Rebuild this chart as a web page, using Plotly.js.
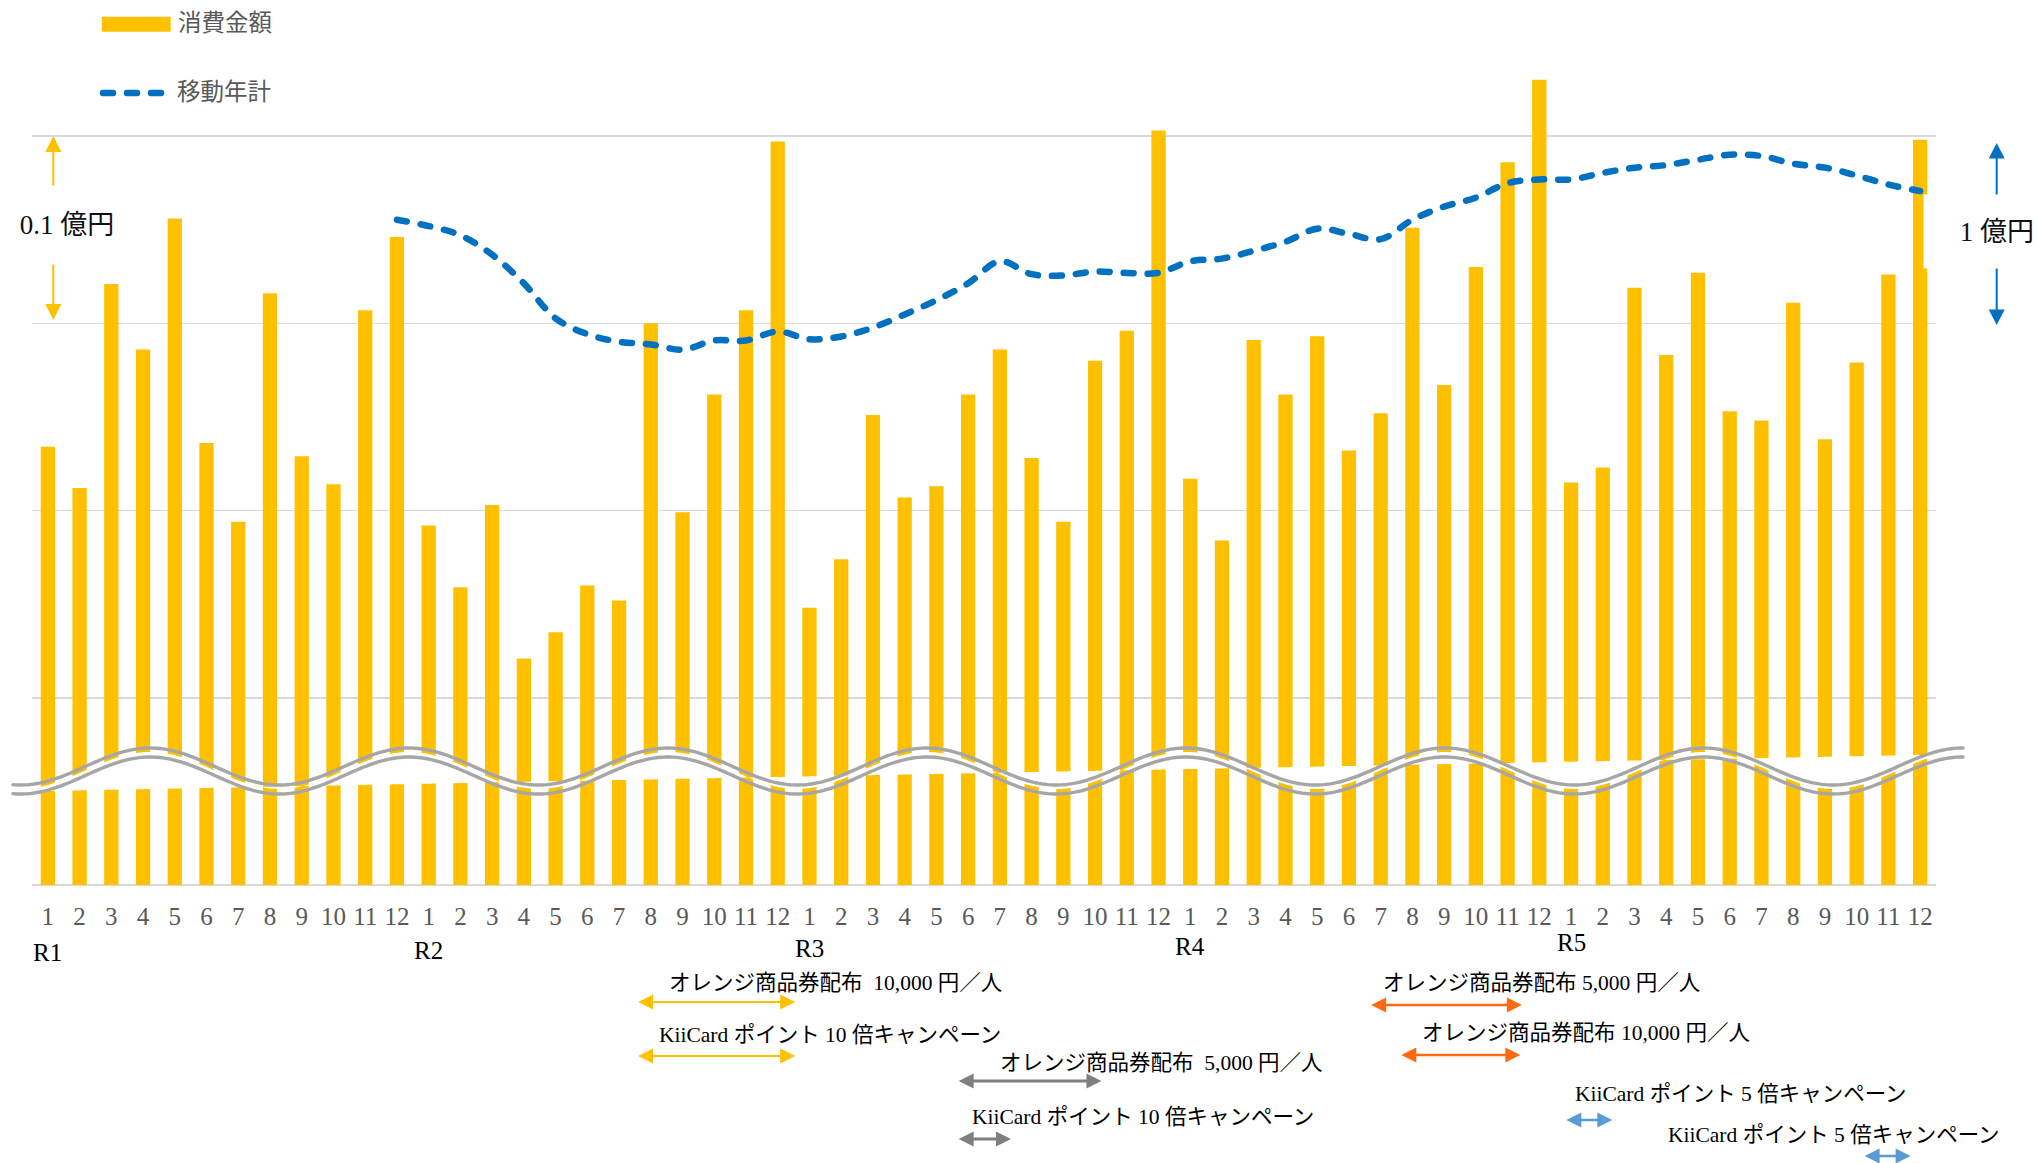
<!DOCTYPE html>
<html>
<head>
<meta charset="utf-8">
<script src="https://cdn.plot.ly/plotly-3.0.1.min.js"></script>
<style>
html,body{margin:0;padding:0;background:#ffffff;}
#chart{width:2038px;height:1163px;}
.js-line, .shapelayer path { stroke-linecap: round; }
</style>
</head>
<body>
<div id="chart"></div>
<script>
// ---------------- data ----------------
const years  = ['R1', 'R2', 'R3', 'R4', 'R5'];
const months = [1, 2, 3, 4, 5, 6, 7, 8, 9, 10, 11, 12];

// 消費金額 (chart scale: one grid step = 0.1 億円, broken axis)
const spendR1 = [0.234, 0.212, 0.321, 0.286, 0.356, 0.236, 0.194, 0.316, 0.229, 0.214, 0.307, 0.346];
const spendR2 = [0.192, 0.159, 0.203, 0.121, 0.135, 0.160, 0.152, 0.300, 0.199, 0.262, 0.307, 0.397];
const spendR3 = [0.148, 0.174, 0.251, 0.207, 0.213, 0.262, 0.286, 0.228, 0.194, 0.280, 0.296, 0.403];
const spendR4 = [0.217, 0.184, 0.291, 0.262, 0.293, 0.232, 0.252, 0.351, 0.267, 0.330, 0.386, 0.430];
const spendR5 = [0.215, 0.223, 0.319, 0.283, 0.327, 0.253, 0.248, 0.311, 0.238, 0.279, 0.326, 0.398];

// 移動年計 (one grid step = 1 億円), from R1-12 to R5-12
const movingTotal = [
  3.553,
  3.519, 3.470, 3.366, 3.213, 3.026, 2.942, 2.901, 2.887, 2.859, 2.908, 2.908, 2.956,
  2.915, 2.929, 2.977, 3.047, 3.123, 3.213, 3.331, 3.262, 3.255, 3.276, 3.269, 3.269,
  3.331, 3.345, 3.387, 3.435, 3.505, 3.477, 3.449, 3.553, 3.623, 3.671, 3.748, 3.768,
  3.768, 3.803, 3.831, 3.845, 3.873, 3.900, 3.893, 3.852, 3.831, 3.789, 3.741, 3.706
];
const movingStart = 11; // first month index of the moving total (R1-12)

// campaigns (periods in month-index units along the x axis)
const campaignLabels = [
  'オレンジ商品券配布\u00a0 10,000 円／人',
  'KiiCard ポイント 10 倍キャンペーン',
  'オレンジ商品券配布\u00a0 5,000 円／人',
  'KiiCard ポイント 10 倍キャンペーン',
  'オレンジ商品券配布 5,000 円／人',
  'オレンジ商品券配布 10,000 円／人',
  'KiiCard ポイント 5 倍キャンペーン',
  'KiiCard ポイント 5 倍キャンペーン'
];
const campaignStart = [18.6, 18.6, 28.7, 28.7, 41.7, 42.65, 47.85, 57.25];
const campaignEnd   = [23.55, 23.55, 33.2, 30.35, 46.45, 46.4, 49.3, 58.7];

const legendNames = ['消費金額', '移動年計'];
const unitLeft  = '0.1 億円';
const unitRight = '1 億円';

// ---------------- presentation ----------------
const W = 2038, H = 1163;
const ML = 32, MR = 102, MT = 0, MB = 278;
const PW = W - ML - MR, PH = H - MT - MB;       // 1904 x 885
const GRID_PX = 187.25;                          // px per grid step
const px = x => (x - ML) / PW;                   // pixel x -> paper
const py = y => (PH + MT - y) / PH;              // pixel y -> paper
const SLOT = PW / 60;
const idxOfPx = x => (x - ML) / SLOT - 0.5;

const YELLOW = '#FFC000', BLUE = '#0070C0', GRAY_WAVE = '#A6A6A6';
const SERIF = 'Liberation Serif, "Noto Sans CJK JP", serif';

const campaignColor = [YELLOW, YELLOW, '#7F7F7F', '#7F7F7F', '#FF6A10', '#FF6A10', '#5B9BD5', '#5B9BD5'];
const campaignTextX = [667, 657, 998, 970, 1381, 1420, 1573, 1666];
const campaignTextY = [983, 1035, 1063, 1117, 983, 1033, 1094, 1135];
const campaignArrowY = [1002, 1056, 1081, 1139, 1005, 1055, 1120, 1156];
const campaignLineW = [2, 2, 3, 3, 2.5, 2.5, 2.5, 2.5];

const yearLabelY = [952, 951, 948, 946, 943];

// ---------------- build ----------------
const spend = [].concat(spendR1, spendR2, spendR3, spendR4, spendR5);
const xIdx = spend.map((_, i) => i);
const tickText = years.flatMap(() => months.map(String));
const lineX = movingTotal.map((_, i) => i + movingStart);

const traces = [
  {
    type: 'bar', x: xIdx, y: spend, width: 0.45,
    marker: {color: YELLOW, line: {width: 0}},
    hoverinfo: 'skip', name: legendNames[0]
  },
  {
    type: 'scatter', mode: 'lines', x: lineX, y: movingTotal, yaxis: 'y2',
    line: {color: BLUE, width: 6.5, dash: '10px,14px', shape: 'spline', smoothing: 1},
    hoverinfo: 'skip', name: legendNames[1]
  }
];

const shapes = [];
const annotations = [];

// --- axis break (wave) ---
function waveY(x) { return 766.5 - 18.5 * Math.cos(2 * Math.PI * (idxOfPx(x) - 3.22) / 8.16); }
function sLine(x) { return 791 - 36 * (x - 47) / 1873; }
(function () {
  let p = '';
  for (let x = ML; x <= ML + PW; x += 3) p += (p ? ' L' : 'M') + px(x).toFixed(5) + ',' + py(waveY(x) + 4).toFixed(5);
  for (let x = ML + PW; x >= ML; x -= 3) p += ' L' + px(x).toFixed(5) + ',' + py(sLine(x)).toFixed(5);
  p += ' Z';
  shapes.push({type: 'path', xref: 'paper', yref: 'paper', path: p, fillcolor: '#ffffff', line: {width: 0}, layer: 'above'});
  [0, 9].forEach(off => {
    let q = '';
    for (let x = 13; x <= 1965; x += 3) q += (q ? ' L' : 'M') + px(x).toFixed(5) + ',' + py(waveY(x) + off).toFixed(5);
    shapes.push({type: 'path', xref: 'paper', yref: 'paper', path: q, line: {color: GRAY_WAVE, width: 3.4}, layer: 'above'});
  });
})();

// --- vertical double arrows (scale hints) ---
function tri(tipX, tipY, baseY, half, color) {
  return {type: 'path', xref: 'paper', yref: 'paper', layer: 'above',
    path: 'M' + px(tipX) + ',' + py(tipY) + ' L' + px(tipX - half) + ',' + py(baseY) + ' L' + px(tipX + half) + ',' + py(baseY) + ' Z',
    fillcolor: color, line: {width: 0}};
}
function vArrow(x, top, bottom, head, half, color, lw) {
  shapes.push({type: 'line', xref: 'paper', yref: 'paper', x0: px(x), x1: px(x), y0: py(top + head - 2), y1: py(bottom - head + 2), line: {color: color, width: lw}});
  shapes.push(tri(x, top, top + head, half, color));
  shapes.push(tri(x, bottom, bottom - head, half, color));
}
vArrow(53.3, 136, 320, 16, 8, YELLOW, 2);
vArrow(1996.7, 143, 325, 15.5, 8, BLUE, 2);

annotations.push({xref: 'paper', yref: 'paper', x: px(67), y: py(225), xanchor: 'center', yanchor: 'middle',
  text: unitLeft, showarrow: false, bgcolor: '#ffffff', width: 112, height: 78, borderpad: 0,
  font: {family: SERIF, size: 27, color: '#111111'}});
annotations.push({xref: 'paper', yref: 'paper', x: px(1979), y: py(231), xanchor: 'center', yanchor: 'middle',
  text: unitRight, showarrow: false, bgcolor: '#ffffff', width: 110, height: 73, borderpad: 0, align: 'right',
  font: {family: SERIF, size: 27, color: '#111111'}});

// --- custom legend ---
shapes.push({type: 'rect', xref: 'paper', yref: 'paper', x0: px(101.7), x1: px(170.7), y0: py(16.7), y1: py(31.7), fillcolor: YELLOW, line: {width: 0}});
shapes.push({type: 'line', xref: 'paper', yref: 'paper', x0: px(103), x1: px(161), y0: py(93), y1: py(93), line: {color: BLUE, width: 6.5, dash: '10px,14px'}});
annotations.push({xref: 'paper', yref: 'paper', x: px(176), y: py(23), xanchor: 'left', yanchor: 'middle', showarrow: false,
  text: legendNames[0], font: {family: SERIF, size: 23.5, color: '#595959'}});
annotations.push({xref: 'paper', yref: 'paper', x: px(175), y: py(92), xanchor: 'left', yanchor: 'middle', showarrow: false,
  text: legendNames[1], font: {family: SERIF, size: 23.5, color: '#595959'}});

// --- year labels ---
years.forEach((yr, k) => {
  annotations.push({xref: 'x', yref: 'paper', x: k * months.length, y: py(yearLabelY[k]), xanchor: 'center', yanchor: 'middle',
    showarrow: false, text: yr, font: {family: SERIF, size: 25, color: '#000000'}});
});

// --- campaigns ---
campaignLabels.forEach((lab, k) => {
  annotations.push({xref: 'paper', yref: 'paper', x: px(campaignTextX[k]), y: py(campaignTextY[k]), xanchor: 'left', yanchor: 'middle',
    showarrow: false, text: lab, font: {family: SERIF, size: 21.5, color: '#000000'}});
  const c = campaignColor[k], y = py(campaignArrowY[k]);
  const hl = 15 / SLOT, hh = 7.5 / PH;
  const s = campaignStart[k], e = campaignEnd[k];
  shapes.push({type: 'line', xref: 'x', yref: 'paper', x0: s + hl * 0.8, x1: e - hl * 0.8, y0: y, y1: y, line: {color: c, width: campaignLineW[k]}});
  shapes.push({type: 'path', xref: 'x', yref: 'paper', path: 'M' + s + ',' + y + ' L' + (s + hl) + ',' + (y + hh) + ' L' + (s + hl) + ',' + (y - hh) + ' Z', fillcolor: c, line: {width: 0}});
  shapes.push({type: 'path', xref: 'x', yref: 'paper', path: 'M' + e + ',' + y + ' L' + (e - hl) + ',' + (y + hh) + ' L' + (e - hl) + ',' + (y - hh) + ' Z', fillcolor: c, line: {width: 0}});
});

const layout = {
  width: W, height: H,
  margin: {l: ML, r: MR, t: MT, b: MB, pad: 0},
  paper_bgcolor: '#ffffff', plot_bgcolor: 'rgba(0,0,0,0)',
  showlegend: false,
  font: {family: SERIF},
  xaxis: {
    type: 'linear', range: [-0.5, 59.5], tickmode: 'array', tickvals: xIdx, ticktext: tickText,
    tickangle: 0, ticks: '', showgrid: false, zeroline: false, showline: false,
    tickfont: {family: SERIF, size: 25, color: '#595959'}, ticklabelstandoff: 14, fixedrange: true
  },
  yaxis: {
    range: [0, PH / (GRID_PX * 10)], tick0: 0, dtick: 0.1, showgrid: true, gridcolor: '#D9D9D9', gridwidth: 1.5,
    zeroline: true, zerolinecolor: '#D9D9D9', zerolinewidth: 2, showticklabels: false, ticks: '', showline: false, fixedrange: true
  },
  yaxis2: {overlaying: 'y', range: [0, PH / GRID_PX], visible: false, showgrid: false, zeroline: false, fixedrange: true},
  shapes: shapes,
  annotations: annotations
};

Plotly.newPlot('chart', traces, layout, {staticPlot: true, displayModeBar: false});
</script>
</body>
</html>
